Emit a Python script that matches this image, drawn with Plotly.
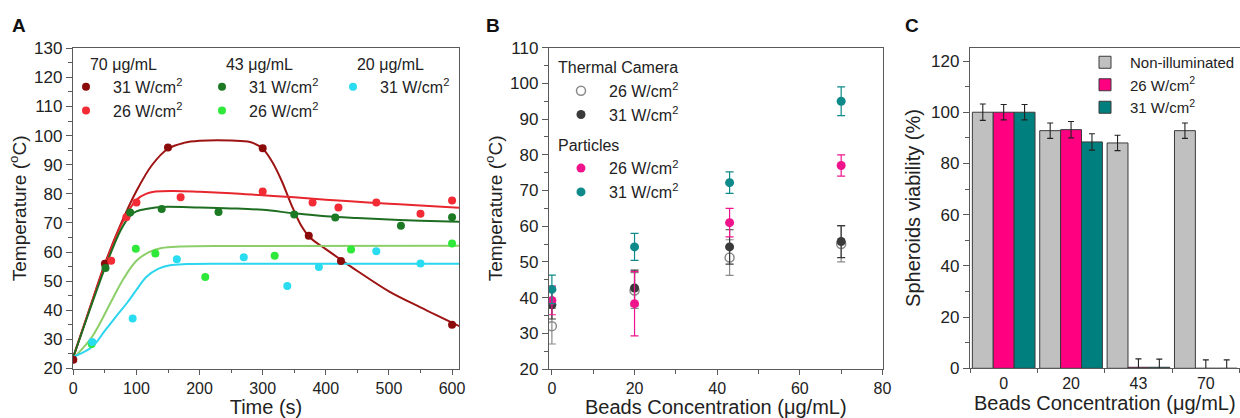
import plotly.graph_objects as go

# ---------------- Panel A data (time course) ----------------
t_70_31 = [0, 50, 150, 300, 373, 424, 600]
v_70_31 = [23, 56, 95.9, 95.7, 65.6, 56.9, 35]
t_70_26 = [60, 84, 100, 170, 300, 379, 420, 480, 550, 600]
v_70_26 = [57, 72, 77, 78.8, 80.8, 77, 75.3, 77, 73.2, 77.7]
t_43_31 = [51, 90, 140, 230, 350, 415, 519, 600]
v_43_31 = [54.5, 73.6, 74.8, 73.8, 72.9, 71.9, 69, 72]
t_43_26 = [29, 99, 130, 209, 319, 440, 600]
v_43_26 = [28.4, 61.1, 59.5, 51.4, 58.7, 60.9, 62.9]
t_20_31 = [30, 94, 164, 270, 339, 389, 480, 550]
v_20_31 = [29.1, 37.2, 57.5, 58.2, 48.3, 54.9, 60.3, 56.1]

# fitted curves
ft_70_31 = [0, 25, 50, 75, 100, 125, 150, 175, 200, 250, 280, 300, 315, 330, 345, 360, 375, 400, 425, 450, 500, 550, 612]
fv_70_31 = [24, 40, 56, 69.5, 81, 90, 95.5, 97.5, 98.2, 98.3, 97.8, 95.5, 91, 84.5, 76.5, 69.5, 65, 61, 57.2, 53.5, 46.5, 41, 34.5]
ft_70_26 = [0, 25, 50, 75, 90, 100, 115, 130, 160, 200, 250, 300, 350, 400, 450, 500, 550, 612]
fv_70_26 = [24, 40, 55.5, 69, 75, 78, 80, 80.8, 81, 80.7, 80.2, 79.5, 78.8, 78, 77.3, 76.6, 76, 75.2]
ft_43_31 = [0, 25, 50, 75, 90, 100, 120, 140, 200, 250, 300, 350, 400, 450, 500, 550, 612]
fv_43_31 = [24, 39.5, 54.5, 67.5, 72.5, 74, 75, 75.5, 75.3, 75, 74.5, 73.3, 72.3, 71.7, 71.2, 70.8, 70.4]
ft_43_26 = [0, 30, 60, 80, 100, 120, 140, 170, 250, 612]
fv_43_26 = [23.5, 31, 43, 51, 57, 60, 61.4, 61.9, 62.1, 62.2]
ft_20_31 = [0, 30, 50, 70, 85, 100, 116, 135, 153, 180, 250, 612]
fv_20_31 = [24, 27.5, 33, 38.5, 42.5, 47, 51.5, 54.3, 55.5, 55.9, 56, 56]

# ---------------- Panel B data ----------------
conc = [0, 20, 43, 70]
tc26 = [32, 42, 51.2, 55]
tc26_err = [5, 5, 5, 5]
tc31 = [38, 42.7, 54.2, 55.7]
tc31_err = [4, 5, 4.8, 4.5]
p26 = [39.2, 38.3, 61, 77]
p26_err = [4, 9, 4, 3]
p31 = [42.3, 54.2, 72.2, 95]
p31_err = [4, 3.8, 3, 4]

# ---------------- Panel C data ----------------
cats = ["0", "20", "43", "70"]
non_ill = [100, 92.8, 88, 92.8]
non_ill_err = [3.2, 3, 3, 3]
w26 = [100, 93.2, 0.4, 0]
w26_err = [3, 3.2, 3.3, 3.3]
w31 = [100, 88.4, 0.4, 0]
w31_err = [3, 3.2, 3.2, 3.3]

FONT = "Liberation Sans, Arial, sans-serif"
TXT = "#222222"
AX = "#5a5a5a"
SUP2 = "W/cm<sup>2</sup>"

fig = go.Figure()

# ---- Panel A fits ----
fits = [
    (ft_70_31, fv_70_31, "#9E1414"),
    (ft_70_26, fv_70_26, "#E8262E"),
    (ft_43_31, fv_43_31, "#1E6E22"),
    (ft_43_26, fv_43_26, "#8CCF6A"),
    (ft_20_31, fv_20_31, "#2BD6EE"),
]
for xs, ys, c in fits:
    fig.add_trace(go.Scatter(x=xs, y=ys, mode="lines", line=dict(color=c, width=2, shape="spline", smoothing=1.0),
                             showlegend=False, xaxis="x", yaxis="y", hoverinfo="skip"))

pts = [
    (t_70_31, v_70_31, "#8B0A0A", "31 " + SUP2, "legend"),
    (t_70_26, v_70_26, "#F22B35", "26 " + SUP2, "legend"),
    (t_43_31, v_43_31, "#1C7A24", "31 " + SUP2, "legend2"),
    (t_43_26, v_43_26, "#2EE83A", "26 " + SUP2, "legend2"),
    (t_20_31, v_20_31, "#2ADCF0", "31 " + SUP2, "legend3"),
]
for xs, ys, c, nm, lg in pts:
    fig.add_trace(go.Scatter(x=xs, y=ys, mode="markers", marker=dict(color=c, size=8),
                             name=nm, legend=lg, xaxis="x", yaxis="y"))

# ---- Panel B ----
def eb(arr, c):
    return dict(type="data", array=arr, visible=True, color=c, thickness=1.2, width=4)

fig.add_trace(go.Scatter(x=conc, y=tc26, mode="markers", name="26 " + SUP2,
                         marker=dict(symbol="circle-open", size=9, color="#8A8A8A", line=dict(width=1.5, color="#8A8A8A")),
                         error_y=eb(tc26_err, "#8A8A8A"), xaxis="x2", yaxis="y2", legend="legend4",
                         legendgroup="tc", legendgrouptitle=dict(text="Thermal Camera", font=dict(size=16, color=TXT))))
fig.add_trace(go.Scatter(x=conc, y=tc31, mode="markers", name="31 " + SUP2,
                         marker=dict(size=9, color="#3A3A3A"),
                         error_y=eb(tc31_err, "#3A3A3A"), xaxis="x2", yaxis="y2", legend="legend4",
                         legendgroup="tc"))
fig.add_trace(go.Scatter(x=conc, y=p26, mode="markers", name="26 " + SUP2,
                         marker=dict(size=9, color="#F0148C"),
                         error_y=eb(p26_err, "#F0148C"), xaxis="x2", yaxis="y2", legend="legend4",
                         legendgroup="p", legendgrouptitle=dict(text="Particles", font=dict(size=16, color=TXT))))
fig.add_trace(go.Scatter(x=conc, y=p31, mode="markers", name="31 " + SUP2,
                         marker=dict(size=9, color="#0E8A8A"),
                         error_y=eb(p31_err, "#0E8A8A"), xaxis="x2", yaxis="y2", legend="legend4",
                         legendgroup="p"))

# ---- Panel C ----
def ebc(arr):
    return dict(type="data", array=arr, visible=True, color="#222222", thickness=1.1, width=3)

for vals, errs, c, nm in [(non_ill, non_ill_err, "#C0C0C0", "Non-illuminated"),
                          (w26, w26_err, "#FF0080", "26 " + SUP2),
                          (w31, w31_err, "#007F7F", "31 " + SUP2)]:
    fig.add_trace(go.Bar(x=cats, y=vals, name=nm, marker=dict(color=c, line=dict(color="#3a3a3a", width=1)),
                         error_y=ebc(errs), xaxis="x3", yaxis="y3", legend="legend5"))


def axis(domain, rng, dtick, minor_dtick, anchor, title, title_size, standoff, tsize, **kw):
    d = dict(domain=domain, range=rng, anchor=anchor, showline=True, linecolor=AX, linewidth=1.3, mirror=True,
             ticks="outside", ticklen=6, tickwidth=1.2, tickcolor=AX, showgrid=False, zeroline=False,
             automargin=False,
             tickfont=dict(size=tsize, color=TXT, family=FONT),
             title=dict(text=title, font=dict(size=title_size, color=TXT, family=FONT), standoff=standoff))
    if dtick is not None:
        d["dtick"] = dtick
        d["tick0"] = 0
    if minor_dtick is not None:
        d["minor"] = dict(dtick=minor_dtick, ticks="outside", ticklen=3.5, tickwidth=1, tickcolor=AX)
    d.update(kw)
    return d

W, H = 1240, 418
def px(a, b):
    return [a / W, b / W]
def py(top, bot):
    return [1 - bot / H, 1 - top / H]

fig.update_layout(
    width=W, height=H, margin=dict(l=0, r=0, t=0, b=0, pad=0, autoexpand=False),
    paper_bgcolor="white", plot_bgcolor="white",
    font=dict(family=FONT, color=TXT, size=16),
    barmode="group", bargap=0.07, bargroupgap=0.0,
    xaxis=axis(px(73, 459), [-0.5, 611], 100, 50, "y", "Time (s)", 20, 4, 16, ticklen=5),
    yaxis=axis(py(48.3, 368.5), [20, 130], 10, 5, "x", "Temperature (<sup>o</sup>C)", 19, 2, 17),
    xaxis2=axis(px(549, 882.5), [-0.7, 80], 20, 10, "y2", "Beads Concentration (μg/mL)", 20, 4, 16, ticklen=5),
    yaxis2=axis(py(47.7, 369), [20, 110], 10, 5, "x2", "Temperature (<sup>o</sup>C)", 19, 2, 17),
    xaxis3=axis(px(970, 1239.5), [-0.5, 3.5], None, None, "y3", "Beads Concentration (μg/mL)", 20, 4, 16,
                type="category", tickson="boundaries", ticklen=4),
    yaxis3=axis(py(47.7, 368.3), [0, 125.2], 20, 10, "x3", "Spheroids viability (%)", 20, 5, 17),
    legend=dict(x=59 / W, y=1 - 49 / H, xanchor="left", yanchor="top", bgcolor="rgba(0,0,0,0)",
                itemwidth=44, font=dict(size=16, color=TXT),
                title=dict(text="70 μg/mL", side="top center", font=dict(size=16, color=TXT))),
    legend2=dict(x=195 / W, y=1 - 49 / H, xanchor="left", yanchor="top", bgcolor="rgba(0,0,0,0)",
                 itemwidth=44, font=dict(size=16, color=TXT),
                 title=dict(text="43 μg/mL", side="top center", font=dict(size=16, color=TXT))),
    legend3=dict(x=326 / W, y=1 - 49 / H, xanchor="left", yanchor="top", bgcolor="rgba(0,0,0,0)",
                 itemwidth=44, font=dict(size=16, color=TXT),
                 title=dict(text="20 μg/mL", side="top center", font=dict(size=16, color=TXT))),
    legend4=dict(x=553 / W, y=1 - 50 / H, xanchor="left", yanchor="top", bgcolor="rgba(0,0,0,0)",
                 itemwidth=46, font=dict(size=16, color=TXT), tracegroupgap=6),
    legend5=dict(x=1.0, y=1 - 46 / H, xanchor="right", yanchor="top", bgcolor="rgba(0,0,0,0)",
                 itemwidth=40, font=dict(size=15, color=TXT)),
    annotations=[
        dict(text="<b>A</b>", x=19 / W, y=1 - 26 / H, xref="paper", yref="paper", showarrow=False,
             xanchor="center", yanchor="middle", font=dict(size=19, color="#111111")),
        dict(text="<b>B</b>", x=493 / W, y=1 - 26 / H, xref="paper", yref="paper", showarrow=False,
             xanchor="center", yanchor="middle", font=dict(size=19, color="#111111")),
        dict(text="<b>C</b>", x=912 / W, y=1 - 26 / H, xref="paper", yref="paper", showarrow=False,
             xanchor="center", yanchor="middle", font=dict(size=19, color="#111111")),
    ],
)

fig.write_html("out.html", config={"displayModeBar": False},
               post_script="document.body.style.margin='0';")
